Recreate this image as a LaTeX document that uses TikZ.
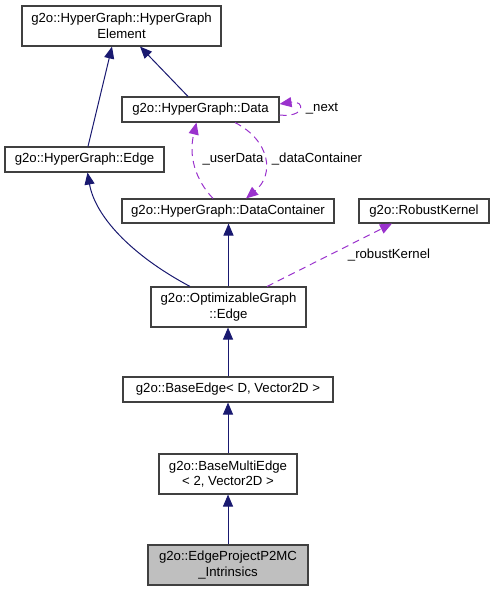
\documentclass[tikz,border=0pt]{standalone}
\usepackage{fontspec}
\setmainfont{Liberation Sans}
\usetikzlibrary{arrows.meta,calc}
\definecolor{navyedge}{HTML}{191970}
\definecolor{purpedge}{HTML}{9A32CD}
\begin{document}
\begin{tikzpicture}[x=1pt,y=-1pt,
  box/.style={draw=black!75, line width=1.1pt, rectangle, inner sep=0pt, align=center, font=\fontsize{13.2}{15.5}\selectfont, fill=white},
  inh/.style={draw=navyedge, line width=1pt, -{Triangle[length=12pt,width=10pt]}, color=navyedge},
  rel/.style={draw=purpedge, line width=1pt, dash pattern=on 7pt off 5pt, -{Triangle[length=12pt,width=10pt]}, color=purpedge},
  lbl/.style={font=\fontsize{13.2}{15.5}\selectfont, inner sep=0pt, text=black}]
\useasboundingbox (0,0) rectangle (495,591);
\node[box, minimum width=199pt, minimum height=40pt] (hge) at (121.5,26) {g2o::HyperGraph::HyperGraph\\Element};
\node[box, minimum width=157pt, minimum height=25pt] (data) at (200.5,109.5) {g2o::HyperGraph::Data};
\node[box, minimum width=159pt, minimum height=25pt] (hgedge) at (84.5,159.5) {g2o::HyperGraph::Edge};
\node[box, minimum width=212pt, minimum height=24pt] (dc) at (228,211) {g2o::HyperGraph::DataContainer};
\node[box, minimum width=130pt, minimum height=24pt] (rk) at (424,211) {g2o::RobustKernel};
\node[box, minimum width=155pt, minimum height=40pt] (opt) at (228.5,307) {g2o::OptimizableGraph\\::Edge};
\node[box, minimum width=210pt, minimum height=25pt] (base) at (228,389.5) {g2o::BaseEdge< D, Vector2D >};
\node[box, minimum width=138pt, minimum height=40pt] (bme) at (228,474) {g2o::BaseMultiEdge\\< 2, Vector2D >};
\node[box, fill=black!25, minimum width=160pt, minimum height=40pt] (epp) at (228,565) {g2o::EdgeProjectP2MC\\\_Intrinsics};

% inheritance
\draw[inh] ($(hgedge.north)+(3.5,0)$) -- ($(hge.south)+(-9.5,0)$);
\draw[inh] ($(data.north)+(-12.5,0)$) -- ($(hge.south)+(18.5,0)$);
\draw[inh] ($(opt.north)+(-38.5,0)$) .. controls ($(opt.north)+(-98.5,-32)$) and ($(hgedge.south)+(10.5,43)$) .. ($(hgedge.south)+(3,0)$);
\draw[inh] (opt.north) -- (opt.north |- dc.south);
\draw[inh] (base.north) -- (base.north |- opt.south);
\draw[inh] (bme.north) -- (bme.north |- base.south);
\draw[inh] (epp.north) -- (epp.north |- bme.south);

% usage relations
\draw[rel] ($(opt.north)+(38.5,0)$) -- ($(rk.south)+(-32,0)$);
\node[lbl] (lrk) at (389,255) {\_robustKernel};
\draw[rel] ($(dc.north)+(-15,0)$) .. controls ($(dc.north)+(-33,-19)$) and ($(data.south)+(-12,33)$) .. ($(data.south)+(-4,0)$);
\node[lbl] (lud) at (233,159) {\_userData};
\draw[rel] ($(data.south)+(34.5,0)$) .. controls ($(data.south)+(69.5,18)$) and ($(dc.north)+(47,-24)$) .. ($(dc.north)+(18,0)$);
\node[lbl] (ldc) at (317,159) {\_dataContainer};
\draw[rel] ($(data.east)+(0,5.5)$) .. controls ($(data.east)+(26,8.5)$) and ($(data.east)+(26,-9.5)$) .. ($(data.east)+(0,-5.5)$);
\node[lbl] (lnext) at (322,109) {\_next};
\end{tikzpicture}
\end{document}
